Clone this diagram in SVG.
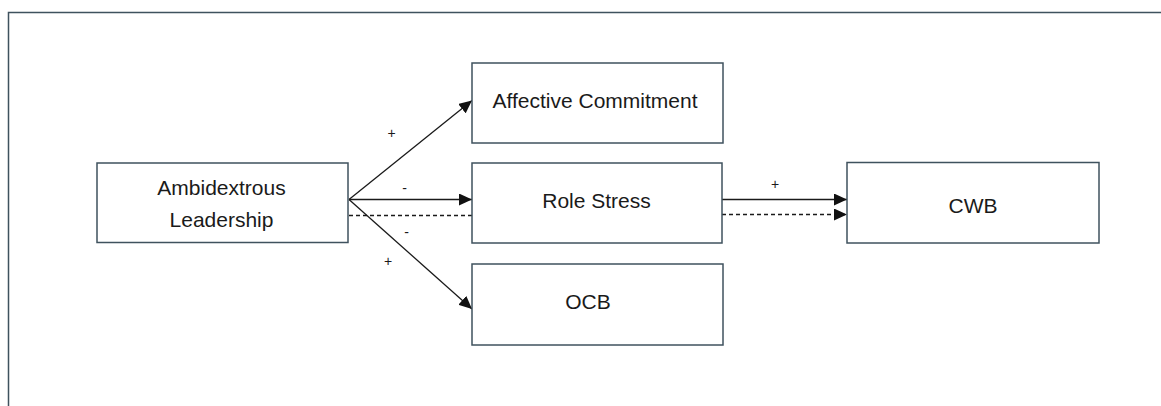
<svg xmlns="http://www.w3.org/2000/svg" width="1161" height="406" viewBox="0 0 1161 406">
<defs>
<style>
.box{fill:#fff;stroke:#3f525e;stroke-width:1.5}
.lbl{font-family:"Liberation Sans",Arial,sans-serif;font-size:21px;fill:#1a1a1a;text-anchor:middle}
.sign{font-family:"Liberation Sans",Arial,sans-serif;font-size:14px;fill:#1a1a1a;text-anchor:middle}
.ln{stroke:#1a1a1a;stroke-width:1.3;fill:none}
.dash{stroke-dasharray:4 3}
</style>
<marker id="ah" markerUnits="userSpaceOnUse" markerWidth="14" markerHeight="12" refX="13" refY="6" orient="auto">
<path d="M0,0 L13,6 L0,12 Z" fill="#111"/>
</marker>
</defs>
<rect width="1161" height="406" fill="#fff"/>
<rect x="8.5" y="12.5" width="1200" height="450" fill="none" stroke="#3f525e" stroke-width="1.5"/>
<g id="connectors">
<line class="ln" x1="349" y1="199.5" x2="472" y2="100.5" marker-end="url(#ah)"/>
<line class="ln" x1="349" y1="199.5" x2="472" y2="199.5" marker-end="url(#ah)"/>
<line class="ln dash" x1="349" y1="215.5" x2="472" y2="215.5"/>
<line class="ln" x1="349" y1="199.5" x2="472" y2="309" marker-end="url(#ah)"/>
<line class="ln" x1="722" y1="199.5" x2="847" y2="199.5" marker-end="url(#ah)"/>
<line class="ln dash" x1="722" y1="214.5" x2="847" y2="214.5" marker-end="url(#ah)"/>
<text class="sign" x="391.5" y="137.5">+</text>
<text class="sign" x="404.5" y="192.5">-</text>
<text class="sign" x="406.5" y="236.5">-</text>
<text class="sign" x="388" y="265.5">+</text>
<text class="sign" x="775" y="189">+</text>
</g>
<g id="ambidextrous">
<rect class="box" x="97" y="163" width="251" height="79.5"/>
<text class="lbl" x="221.5" y="195">Ambidextrous</text>
<text class="lbl" x="221.5" y="227">Leadership</text>
</g>
<g id="affective">
<rect class="box" x="472" y="63" width="251" height="80"/>
<text class="lbl" x="595" y="107.5">Affective Commitment</text>
</g>
<g id="rolestress">
<rect class="box" x="472" y="163" width="250" height="80"/>
<text class="lbl" x="596.5" y="207.5">Role Stress</text>
</g>
<g id="ocb">
<rect class="box" x="472" y="264" width="251" height="81"/>
<text class="lbl" x="588" y="309">OCB</text>
</g>
<g id="cwb">
<rect class="box" x="847" y="162.5" width="252" height="80.5"/>
<text class="lbl" x="973" y="213">CWB</text>
</g>
</svg>
